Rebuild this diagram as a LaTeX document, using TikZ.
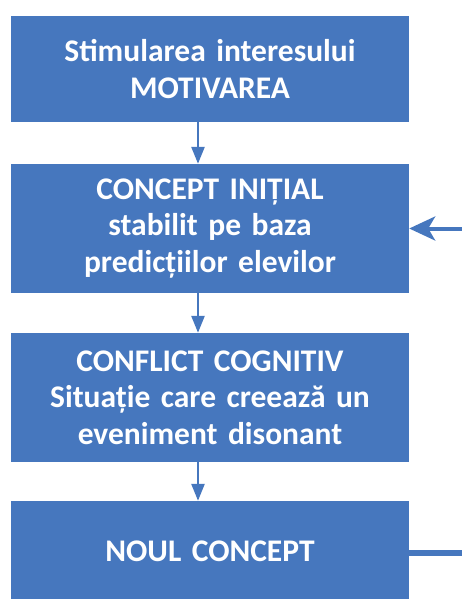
\documentclass[tikz,border=0pt]{standalone}
\usepackage{fontspec}
\setmainfont{Carlito}[WordSpace=0.7, BoldFeatures={WordSpace=0.7}]
\usetikzlibrary{arrows.meta}
\definecolor{boxblue}{HTML}{4677BE}
\tikzset{
  stepbox/.style={rectangle, fill=boxblue, draw=none, minimum width=398pt, inner sep=0pt,
    text=white, font=\fontsize{31.5}{36.6}\selectfont\bfseries, align=center, text width=396pt},
  downarrow/.style={draw=boxblue, line width=2.6pt, -{Triangle[length=17pt,width=13pt]}},
  sidearrow/.style={draw=boxblue, line width=4pt, -{Stealth[length=26pt,width=24pt,inset=7pt]}},
  sideline/.style={draw=boxblue, line width=5.5pt}
}
\begin{document}
\begin{tikzpicture}[x=1pt,y=-1pt]
\useasboundingbox (0,0) rectangle (462,599);
\node[stepbox, minimum height=106pt] (b1) at (210,69) {Stimularea interesului\\MOTIVAREA};
\node[stepbox, minimum height=129pt] (b2) at (210,228.5) {CONCEPT INIȚIAL\\stabilit pe baza\\predicțiilor elevilor};
\node[stepbox, minimum height=129pt] (b3) at (210,397.5) {CONFLICT COGNITIV\\Situație care creează un\\eveniment disonant};
\node[stepbox, minimum height=100pt] (b4) at (210,551) {NOUL CONCEPT};
\coordinate (inR) at (462,228.5);
\coordinate (outR) at (462,553);
\draw[downarrow] (b1.south -| 198,0) -- (b2.north -| 198,0);
\draw[downarrow] (b2.south -| 198,0) -- (b3.north -| 198,0);
\draw[downarrow] (b3.south -| 198,0) -- (b4.north -| 198,0);
\draw[sidearrow] (inR) -- (inR -| b2.east);
\draw[sideline] (outR -| b4.east) -- (outR);
\end{tikzpicture}
\end{document}
